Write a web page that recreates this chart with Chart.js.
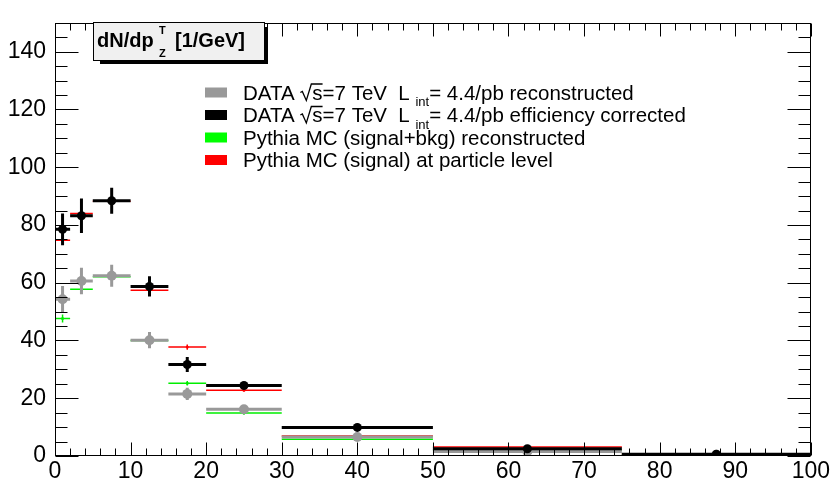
<!DOCTYPE html>
<html>
<head>
<meta charset="utf-8">
<script src="https://cdn.jsdelivr.net/npm/chart.js@4.4.0/dist/chart.umd.min.js"></script>
<style>
  html, body { margin: 0; padding: 0; background: #fff; }
  #wrap { position: relative; width: 832px; height: 484px; }
</style>
</head>
<body>
<div id="wrap"><canvas id="c"></canvas></div>
<script>
// bins in pT(Z) [GeV]
const binEdges = [0, 2, 5, 10, 15, 20, 30, 50, 75, 100];

// DATA, efficiency corrected (black)
const dataCorr    = [78.5, 83.2, 88.4, 58.7, 31.7, 24.4, 9.9, 2.5, 0.6];
const dataCorrErr = [5.5, 6.0, 4.5, 3.5, 2.6, 1.2, 0.6, 0.3, 0.2];
// DATA, reconstructed (grey)
const dataReco    = [54.3, 60.6, 62.4, 40.1, 21.5, 16.2, 6.6, 1.6, 0.4];
const dataRecoErr = [4.6, 4.6, 3.8, 2.8, 2.1, 1.0, 0.5, 0.2, 0.1];
// Pythia signal+bkg reconstructed (green)
const mcReco      = [47.6, 57.7, 62.1, 40.0, 25.2, 14.9, 5.8, 2.1, 0.5];
const mcRecoErr   = [1.4, 1.2, 0.9, 0.8, 0.8, 0.5, 0.2, 0.1, 0.05];
// Pythia signal at particle level (red)
const mcTruth     = [74.7, 84.0, 88.2, 57.4, 37.7, 22.8, 6.9, 3.1, 0.7];
const mcTruthErr  = [1.4, 1.3, 1.0, 0.9, 0.9, 0.5, 0.3, 0.1, 0.05];

const yTickLabels = [0, 20, 40, 60, 80, 100, 120, 140];
const xTickLabels = [0, 10, 20, 30, 40, 50, 60, 70, 80, 90, 100];

const FONT = "'Liberation Sans', Arial, Helvetica, sans-serif";

// horizontal bin-width bar + vertical error bar, separated by gaps
function errSegments(vals, errs) {
  const pts = [];
  vals.forEach((v, i) => {
    const lo = binEdges[i], hi = binEdges[i + 1], c = (lo + hi) / 2;
    pts.push({x: lo, y: v}, {x: hi, y: v}, {x: c, y: null});
    pts.push({x: c, y: v - errs[i]}, {x: c, y: v + errs[i]}, {x: c, y: null});
  });
  return pts;
}
function centers(vals) {
  return vals.map((v, i) => ({x: (binEdges[i] + binEdges[i + 1]) / 2, y: v}));
}
function segSet(vals, errs, color, w) {
  return {data: errSegments(vals, errs), showLine: true, spanGaps: false,
          borderColor: color, borderWidth: w, pointRadius: 0};
}
function markSet(vals, color, r) {
  return {data: centers(vals), showLine: false, pointRadius: r,
          pointBackgroundColor: color, pointBorderWidth: 0};
}

// inward ticks on all four sides + frame, ROOT style
const rootFrame = {
  id: 'rootFrame',
  afterDatasetsDraw(chart) {
    const {ctx, chartArea: a, scales: {x, y}} = chart;
    const L = Math.round(a.left) + 0.5, R = Math.round(a.right) - 0.5;
    const T = Math.round(a.top) + 0.5, B = Math.round(a.bottom) - 0.5;
    ctx.save();
    ctx.strokeStyle = '#000';
    ctx.lineWidth = 1;
    ctx.beginPath();
    x.ticks.forEach(t => {
      const px = Math.round(x.getPixelForValue(t.value)) + 0.5;
      const len = t.value % 10 === 0 ? 13 : 7;
      ctx.moveTo(px, B); ctx.lineTo(px, B - len);
      ctx.moveTo(px, T); ctx.lineTo(px, T + len);
    });
    y.ticks.forEach(t => {
      const py = Math.round(y.getPixelForValue(t.value)) + 0.5;
      const len = t.value % 20 === 0 ? 23 : 12;
      ctx.moveTo(L, py); ctx.lineTo(L + len, py);
      ctx.moveTo(R, py); ctx.lineTo(R - len, py);
    });
    ctx.stroke();
    ctx.strokeRect(L, T, R - L, B - T);
    ctx.restore();
  }
};

// title pave and legend
const annotations = {
  id: 'annotations',
  afterDraw(chart) {
    const ctx = chart.ctx;
    ctx.save();
    // title box with shadow
    ctx.fillStyle = '#000';
    ctx.fillRect(100, 27, 168, 37);
    ctx.fillStyle = '#f0f0f0';
    ctx.fillRect(93, 22, 172, 39);
    ctx.strokeStyle = '#000';
    ctx.lineWidth = 1;
    ctx.strokeRect(93.5, 22.5, 171, 38);
    ctx.fillStyle = '#000';
    ctx.textBaseline = 'alphabetic';
    ctx.font = 'bold 20px ' + FONT;
    ctx.fillText('dN/dp', 97, 47);
    ctx.font = 'bold 11px ' + FONT;
    ctx.fillText('T', 159, 34);
    ctx.fillText('Z', 159, 57);
    ctx.font = 'bold 20px ' + FONT;
    ctx.fillText('[1/GeV]', 175, 47);

    // legend
    const rows = [
      {color: '#999999', kind: 'data', tail: 'reconstructed'},
      {color: '#000000', kind: 'data', tail: 'efficiency corrected'},
      {color: '#00ff00', text: 'Pythia MC (signal+bkg) reconstructed'},
      {color: '#ff0000', text: 'Pythia MC (signal) at particle level'}
    ];
    rows.forEach((r, i) => {
      const cy = 92.5 + i * 22.5;
      const base = cy + 7;
      ctx.fillStyle = r.color;
      ctx.fillRect(205, cy - 5, 22, 10);
      ctx.fillStyle = '#000';
      ctx.font = '20.5px ' + FONT;
      let xx = 243;
      if (r.kind === 'data') {
        ctx.fillText('DATA', xx, base);
        xx += ctx.measureText('DATA ').width;
        // square root sign over s
        const sw = ctx.measureText('s').width;
        ctx.beginPath();
        ctx.lineWidth = 1.3;
        ctx.moveTo(xx, base - 7);
        ctx.lineTo(xx + 2, base - 8);
        ctx.lineTo(xx + 6, base + 1);
        ctx.lineTo(xx + 11, base - 15.5);
        ctx.lineTo(xx + 12 + sw, base - 15.5);
        ctx.stroke();
        xx += 12;
        ctx.fillText('s', xx, base);
        xx += sw;
        ctx.fillText('=7 TeV  L', xx, base);
        xx += ctx.measureText('=7 TeV  L ').width;
        ctx.font = '13px ' + FONT;
        ctx.fillText('int', xx, base + 6.5);
        xx += ctx.measureText('int').width;
        ctx.font = '20.5px ' + FONT;
        ctx.fillText('= 4.4/pb ' + r.tail, xx, base);
      } else {
        ctx.fillText(r.text, xx, base);
      }
    });
    ctx.restore();
  }
};

new Chart(document.getElementById('c'), {
  type: 'scatter',
  data: {
    datasets: [
      markSet(dataCorr, '#000000', 4.5),
      segSet(dataCorr, dataCorrErr, '#000000', 3),
      markSet(dataReco, '#999999', 5),
      segSet(dataReco, dataRecoErr, '#999999', 3),
      markSet(mcTruth, '#ff0000', 1.5),
      segSet(mcTruth, mcTruthErr, '#ff0000', 1.5),
      markSet(mcReco, '#00ee00', 1.5),
      segSet(mcReco, mcRecoErr, '#00ee00', 1.5)
    ]
  },
  options: {
    responsive: true,
    maintainAspectRatio: false,
    animation: false,
    events: [],
    layout: {padding: {top: 9, right: 21, left: 0, bottom: 0}},
    plugins: {legend: {display: false}, tooltip: {enabled: false}},
    scales: {
      x: {
        type: 'linear', min: 0, max: 100,
        grid: {display: false, drawTicks: false},
        border: {display: false},
        afterFit: s => { s.height = 28; },
        ticks: {
          stepSize: 2, autoSkip: false, maxRotation: 0, padding: 2,
          color: '#000', font: {family: FONT, size: 23},
          callback: v => xTickLabels.includes(v) ? String(v) : ''
        }
      },
      y: {
        type: 'linear', min: 0, max: 150,
        grid: {display: false, drawTicks: false},
        border: {display: false},
        afterFit: s => { s.width = 55; },
        ticks: {
          stepSize: 5, autoSkip: false, padding: 9,
          color: '#000', font: {family: FONT, size: 23},
          callback: v => yTickLabels.includes(v) ? String(v) : ''
        }
      }
    }
  },
  plugins: [rootFrame, annotations]
});
</script>
</body>
</html>
